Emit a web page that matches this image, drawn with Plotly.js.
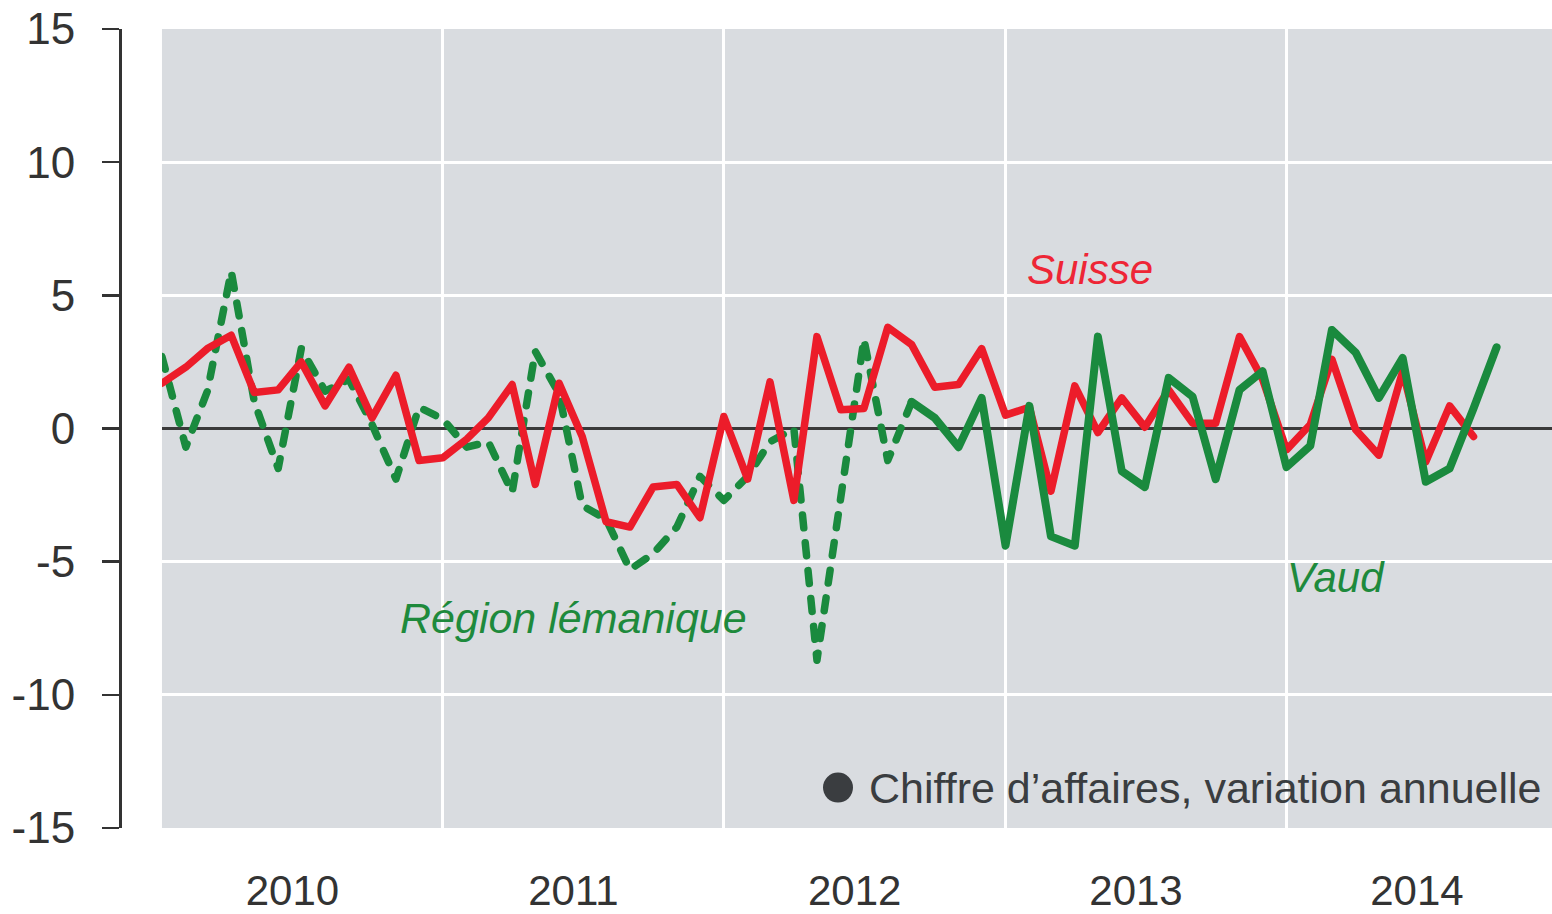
<!DOCTYPE html>
<html>
<head>
<meta charset="utf-8">
<script src="https://cdn.plot.ly/plotly-3.0.1.min.js"></script>
<style>
html,body{margin:0;padding:0;background:#fff;}
#chart{width:1552px;height:914px;}
</style>
</head>
<body>
<div id="chart"></div>
<script>
// Monthly series, first month = January 2010
const firstYear = 2010;

// Suisse (red, solid) – Jan 2010 .. Sep 2014
const suisseStart = 0;
const suisse = [1.7, 2.3, 3.0, 3.5, 1.35, 1.45, 2.5, 0.85, 2.3, 0.4, 2.0, -1.2,
  -1.1, -0.4, 0.4, 1.65, -2.1, 1.7, -0.3, -3.5, -3.7, -2.2, -2.1, -3.35,
  0.45, -1.9, 1.75, -2.7, 3.45, 0.7, 0.75, 3.8, 3.15, 1.55, 1.65, 3.0,
  0.5, 0.8, -2.35, 1.6, -0.15, 1.15, 0.05, 1.45, 0.2, 0.2, 3.45, 1.85,
  -0.8, 0.15, 2.6, -0.05, -1.0, 2.15, -1.25, 0.85, -0.3];

// Région lémanique (green, dashed) – Jan 2010 .. Sep 2012
const lemanStart = 0;
const leman = [2.7, -0.7, 1.4, 5.9, 1.0, -1.5, 3.0, 1.4, 1.85, 0.15, -1.9, 0.8,
  0.35, -0.7, -0.5, -2.4, 2.9, 1.3, -2.9, -3.4, -5.3, -4.7, -3.7, -1.8,
  -2.7, -1.8, -0.5, 0.0, -8.7, -2.7, 3.35, -1.2, 1.0];

// Vaud (green, solid) – Sep 2012 .. Oct 2014
const vaudStart = 32;
const vaud = [1.0, 0.4, -0.7, 1.15, -4.4, 0.85, -4.05, -4.4, 3.45, -1.6, -2.2, 1.9,
  1.2, -1.9, 1.45, 2.15, -1.45, -0.65, 3.7, 2.85, 1.15, 2.65, -2.0, -1.5,
  0.75, 3.05];

const yTicks = [-15, -10, -5, 0, 5, 10, 15];
const yTickText = ['-15', '-10', '-5', '0', '5', '10', '15'];

const labelSuisse = 'Suisse';
const labelVaud = 'Vaud';
const labelLeman = 'Région lémanique';
const noteText = 'Chiffre d’affaires, variation annuelle';

function monthDates(start, n) {
  const out = [];
  for (let i = 0; i < n; i++) {
    const m = start + i;
    const y = firstYear + Math.floor(m / 12);
    const mm = (m % 12) + 1;
    out.push(y + '-' + (mm < 10 ? '0' + mm : mm) + '-01');
  }
  return out;
}

const RED = '#ec1c2a';
const GREEN = '#1a8a3e';
const FONT = '"Liberation Sans", Arial, sans-serif';

const traces = [
  {x: monthDates(lemanStart, leman.length), y: leman, type: 'scatter', mode: 'lines',
   line: {color: GREEN, width: 7.5, dash: '13px,15px'}, hoverinfo: 'skip', name: labelLeman},
  {x: monthDates(suisseStart, suisse.length), y: suisse, type: 'scatter', mode: 'lines',
   line: {color: RED, width: 7.5}, hoverinfo: 'skip', name: labelSuisse},
  {x: monthDates(vaudStart, vaud.length), y: vaud, type: 'scatter', mode: 'lines',
   line: {color: GREEN, width: 8}, hoverinfo: 'skip', name: labelVaud}
];

const layout = {
  width: 1552, height: 914,
  margin: {l: 120, r: 0, t: 29, b: 86, pad: 0},
  paper_bgcolor: '#ffffff',
  plot_bgcolor: '#d9dce0',
  showlegend: false,
  font: {family: FONT, color: '#333333', size: 43},
  xaxis: {
    type: 'date',
    domain: [0.0293, 1],
    range: ['2010-01-01', '2014-12-12'],
    tick0: '2010-01-01', dtick: 'M12',
    ticklabelmode: 'period',
    tickformat: '%Y',
    ticks: '',
    showgrid: true, gridcolor: '#ffffff', gridwidth: 3,
    showline: false, zeroline: false,
    tickfont: {family: FONT, size: 42, color: '#333333'},
    ticklabelstandoff: 34,
    ticklabelshift: -10,
    fixedrange: true
  },
  yaxis: {
    range: [-15, 15],
    tickmode: 'array', tickvals: yTicks, ticktext: yTickText,
    anchor: 'free', position: 0,
    ticks: 'outside', ticklen: 17, tickwidth: 2.5, tickcolor: '#333333',
    showline: true, linecolor: '#333333', linewidth: 2.5,
    showgrid: true, gridcolor: '#ffffff', gridwidth: 3,
    zeroline: true, zerolinecolor: '#3a3a3a', zerolinewidth: 2.5,
    tickfont: {family: FONT, size: 44, color: '#333333'},
    ticklabelstandoff: 18,
    fixedrange: true
  },
  annotations: [
    {text: labelSuisse, xref: 'paper', yref: 'y', x: 0.6774, y: 5.97, showarrow: false,
     xanchor: 'center', yanchor: 'middle', font: {family: FONT, size: 42, color: '#ee2636', style: 'italic'}},
    {text: labelVaud, xref: 'paper', yref: 'y', x: 0.8492, y: -5.6, showarrow: false,
     xanchor: 'center', yanchor: 'middle', font: {family: FONT, size: 42, color: '#1e8a3c', style: 'italic'}},
    {text: labelLeman, xref: 'paper', yref: 'y', x: 0.3170, y: -7.1, showarrow: false,
     xanchor: 'center', yanchor: 'middle', font: {family: FONT, size: 43, color: '#1e8a3c', style: 'italic'}},
    {text: noteText, xref: 'paper', yref: 'y', x: 0.9937, y: -13.48, showarrow: false,
     xanchor: 'right', yanchor: 'middle', font: {family: FONT, size: 43, color: '#3a3d40'}}
  ],
  shapes: [
    {type: 'circle', xref: 'paper', yref: 'y', xsizemode: 'pixel', ysizemode: 'pixel',
     xanchor: 0.5014, yanchor: -13.48, x0: -15, x1: 15, y0: -15, y1: 15,
     fillcolor: '#3a3d40', line: {width: 0}, layer: 'above'}
  ]
};

function roundCaps() {
  document.querySelectorAll('.scatterlayer .js-line').forEach(function (p) {
    p.style.strokeLinecap = 'round';
    p.style.strokeLinejoin = 'round';
  });
}

Plotly.newPlot('chart', traces, layout, {staticPlot: true, displayModeBar: false}).then(roundCaps);
</script>
</body>
</html>
